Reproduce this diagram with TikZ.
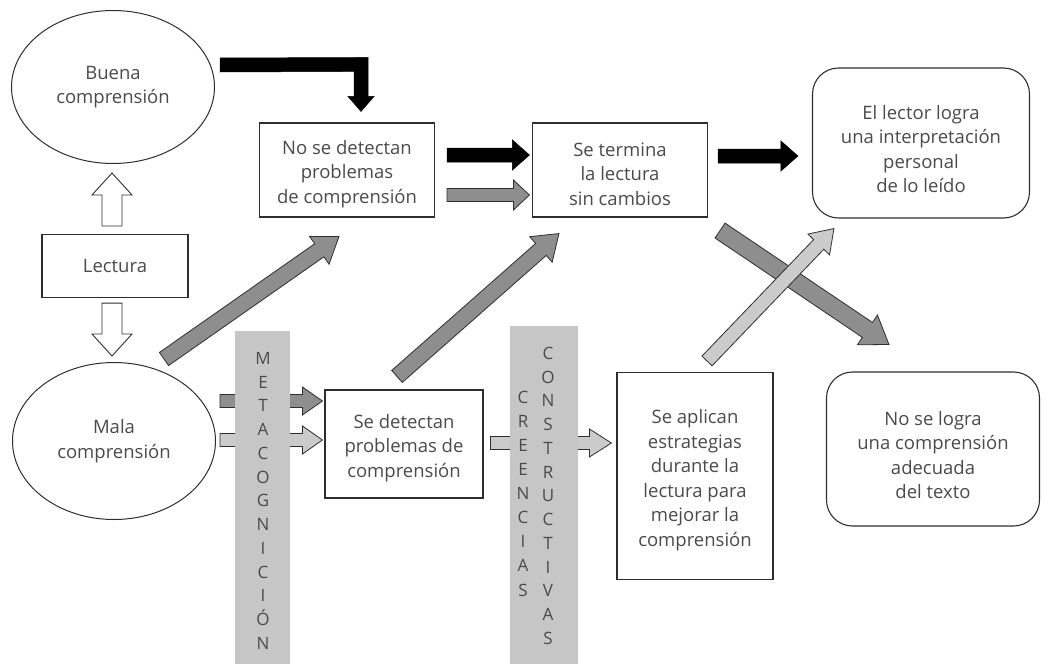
\documentclass[tikz,border=0pt]{standalone}
\usepackage{fontspec}
\setmainfont{Open Sans}
\usetikzlibrary{calc,shapes.geometric}
\definecolor{txt}{HTML}{4A4A4A}
\definecolor{ln}{HTML}{2E2E2E}
\definecolor{midg}{HTML}{8E8E8E}
\definecolor{lightg}{HTML}{CBCBCB}
\definecolor{bandc}{HTML}{C6C6C6}
\newcommand{\barrow}[6]{%
  \coordinate (hb) at ($(#3)!#6!(#2)$);
  \filldraw[#1] ($(#2)!#4!90:(#3)$) -- ($(hb)!#4!90:(#3)$) -- ($(hb)!#5!90:(#3)$) -- (#3)
    -- ($(hb)!#5!-90:(#3)$) -- ($(hb)!#4!-90:(#3)$) -- ($(#2)!#4!-90:(#3)$) -- cycle;}
\newcommand{\lowr}{\rule{0pt}{22pt}}
\newcommand{\lowrr}{\rule{0pt}{26pt}}
\tikzset{
  lbl/.style={text=txt, align=center, font=\fontsize{18.5}{24.5}\selectfont},
  boxn/.style={lbl, draw=ln, line width=1.1pt, inner sep=0pt},
  ell/.style={lbl, ellipse, draw=ln, line width=1pt, inner sep=0pt},
  rbox/.style={boxn, rounded corners=26pt},
  bandtxt/.style={text=txt, font=\fontsize{17}{20}\selectfont, inner sep=0pt, text height=12.5pt, text depth=0pt},
  grayarr/.style={fill=midg, draw=ln, line width=0.8pt, line join=miter},
  lightarr/.style={fill=lightg, draw=ln, line width=0.8pt, line join=miter},
  blackarr/.style={fill=black, draw=black, line width=0.5pt, line join=miter},
  hollowarr/.style={fill=white, draw=ln, line width=0.9pt, line join=miter},
}
\begin{document}
\begin{tikzpicture}[x=1pt,y=-1pt]
\useasboundingbox (0,0) rectangle (1045,664);
% nodes
\node[ell, minimum width=203pt, minimum height=153pt] (buena) at (113,87) {Buena\\comprensión};
\node[boxn, minimum width=146pt, minimum height=63pt] (lect) at (115,266) {Lectura};
\node[ell, minimum width=203pt, minimum height=157pt] (mala) at (114,441) {Mala\\comprensión};
\node[boxn, minimum width=175pt, minimum height=94pt] (nodet) at (347,170) {\lowr No se detectan\\problemas\\de comprensión};
\node[boxn, minimum width=175pt, minimum height=94pt] (termina) at (620,170) {\lowr Se termina\\la lectura\\sin cambios};
\node[rbox, minimum width=217pt, minimum height=150pt] (lector) at (921,143) {\lowrr El lector logra\\una interpretación\\personal\\de lo leído};
\node[boxn, minimum width=158pt, minimum height=108pt] (detect) at (404,444) {\lowr Se detectan\\problemas de\\comprensión};
\node[boxn, minimum width=156pt, minimum height=207pt] (aplican) at (695,476) {\lowr Se aplican\\estrategias\\durante la\\lectura para\\mejorar la\\comprensión};
\node[rbox, minimum width=213pt, minimum height=154pt] (nologra) at (933,449) {\lowrr No se logra\\una comprensión\\adecuada\\del texto};
% hollow arrows
\coordinate (a1s) at ($(lect.north)+(-3,-8)$);
\coordinate (a1e) at ($(buena.south)+(-1,9)$);
\barrow{hollowarr}{a1s}{a1e}{10pt}{20pt}{22pt}
\coordinate (a2s) at ($(lect.south)+(-3,5)$);
\coordinate (a2e) at ($(mala.north)+(-2,-6)$);
\barrow{hollowarr}{a2s}{a2e}{10pt}{20pt}{22pt}
% black elbow arrow
\coordinate (bs) at (220,65);
\coordinate (bt) at ($(nodet.north)+(14,-11)$);
\filldraw[blackarr] ($(bs)+(0,-7)$) -- ($(bt)+(7,-54)$) -- ($(bt)+(7,-15)$) -- ($(bt)+(13,-15)$) -- (bt)
  -- ($(bt)+(-13,-15)$) -- ($(bt)+(-7,-15)$) -- ($(bt)+(-7,-40)$) -- ($(bs)+(0,7)$) -- cycle;
% horizontal arrows top
\coordinate (a3s) at ($(nodet.east)+(12,-15)$);
\coordinate (a3e) at ($(termina.west)+(-2.5,-15)$);
\barrow{blackarr}{a3s}{a3e}{7pt}{15pt}{17pt}
\coordinate (a4s) at ($(nodet.east)+(12,25)$);
\coordinate (a4e) at ($(termina.west)+(-2.5,25)$);
\barrow{grayarr}{a4s}{a4e}{6.5pt}{15pt}{16pt}
\coordinate (a5s) at ($(termina.east)+(10,-14)$);
\coordinate (a5e) at ($(lector.west)+(-14,13)$);
\barrow{blackarr}{a5s}{a5e}{7pt}{15pt}{17pt}
% diagonal arrows
\coordinate (a6s) at ($(mala.north)+(50,-3)$);
\coordinate (a6e) at ($(nodet.south west)+(80,19)$);
\barrow{grayarr}{a6s}{a6e}{8pt}{17pt}{24pt}
\coordinate (a7s) at ($(detect.north)+(-7,-13)$);
\coordinate (a7e) at ($(termina.south west)+(27,16)$);
\barrow{grayarr}{a7s}{a7e}{8pt}{17pt}{24pt}
\coordinate (a8s) at ($(termina.south east)+(12,13)$);
\coordinate (a8e) at ($(nologra.north west)+(63,-27)$);
\barrow{grayarr}{a8s}{a8e}{9pt}{18pt}{26pt}
\coordinate (a9s) at ($(aplican.north)+(12,-11)$);
\coordinate (a9e) at ($(lector.south west)+(22,10)$);
\barrow{lightarr}{a9s}{a9e}{7pt}{15pt}{22pt}
% lower horizontal arrows (behind bands)
\coordinate (a10s) at (220,401);
\coordinate (a10e) at ($(detect.west)+(-2,-43)$);
\barrow{grayarr}{a10s}{a10e}{6.5pt}{14pt}{20pt}
\coordinate (a11s) at (220,440);
\coordinate (a11e) at ($(detect.west)+(-2,-4)$);
\barrow{lightarr}{a11s}{a11e}{6.5pt}{14pt}{20pt}
\coordinate (a12s) at ($(detect.east)+(7,-1)$);
\coordinate (a12e) at ($(aplican.west)+(-5,-33)$);
\barrow{lightarr}{a12s}{a12e}{6.5pt}{14pt}{22pt}
% bands
\fill[bandc] (235,331) rectangle (290,664);
\fill[bandc] (510,326) rectangle (578,664);
\foreach \l [count=\i from 0] in {M,E,T,A,C,O,G,N,I,C,I,Ó,N}
  \node[bandtxt] (meta\i) at (263,{358+23.75*\i}) {\l};
\foreach \l [count=\i from 0] in {C,O,N,S,T,R,U,C,T,I,V,A,S}
  \node[bandtxt] (cons\i) at (548,{353+23.75*\i}) {\l};
\foreach \l [count=\i from 0] in {C,R,E,E,N,C,I,A,S}
  \node[bandtxt] (cree\i) at (523,{397+24.1*\i}) {\l};
\end{tikzpicture}
\end{document}
